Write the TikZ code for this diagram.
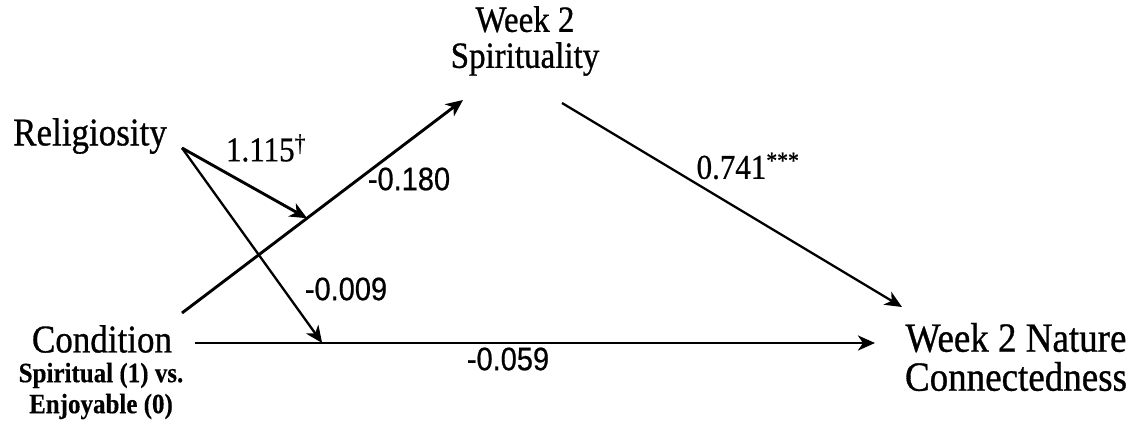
\documentclass[tikz,border=0pt]{standalone}
\usepackage{fontspec}
\setmainfont{Liberation Serif}[BoldFont=Liberation Serif,BoldFeatures={FakeBold=0.8}]
\newfontfamily\subfont{Liberation Serif Bold}[FakeBold=0.4]
\newfontfamily\numfont{Liberation Sans}[BoldFont=Liberation Sans,BoldFeatures={FakeBold=0.6}]
\usetikzlibrary{arrows.meta,calc}
\newcommand\tallbox[1]{\scalebox{1}[1.12]{#1}}

\begin{document}
\begin{tikzpicture}[x=1pt,y=-1pt,
  var/.style={font=\bfseries\fontsize{35}{37}\selectfont,inner sep=0pt,align=center},
  sub/.style={font=\subfont\fontsize{25}{31}\selectfont,inner sep=0pt,align=center},
  coef/.style={font=\numfont\bfseries\fontsize{29}{31}\selectfont,inner sep=0pt},
  coefser/.style={font=\bfseries\fontsize{31}{33}\selectfont,inner sep=0pt},
  link/.style={line width=2.9pt,-{Stealth[length=17pt,width=15pt,inset=5pt]}},
  thinlink/.style={line width=2.3pt,-{Stealth[length=17pt,width=15pt,inset=5pt]}}]
\useasboundingbox (0,0) rectangle (1133,429);
% variables
\node[var] (rel) at (90,136) {\tallbox{Religiosity}};
\node[var,font=\bfseries\fontsize{33}{36}\selectfont] (spir) at (525,41) {\tallbox{Week 2}\\\tallbox{Spirituality}};
\node[var] (cond) at (102,339) {\tallbox{Condition}};
\node[sub] (condsub) at (101,391) {\tallbox{Spiritual (1) vs.}\\\tallbox{Enjoyable (0)}};
\node[var,font=\bfseries\fontsize{37}{39}\selectfont] (nat) at (1016,357) {\tallbox{Week 2 Nature}\\\tallbox{Connectedness}};
% connector ends
\coordinate (relout) at (182,148);
\coordinate (condup) at (182,313);
\coordinate (spirin) at (463,100);
\coordinate (spirout) at (562,103);
\coordinate (natin) at (902,307);
\coordinate (condout) at (195,343);
\coordinate (natleft) at (875,343);
\coordinate (modA) at ($(condup)!0.445!(spirin)$);
\coordinate (modB) at ($(condout)!0.187!(natleft)$);
% paths
\draw[link] (condup) -- (spirin);
\draw[link] (condout) -- (natleft);
\draw[link] (relout) -- (modA);
\draw[thinlink] (relout) -- (modB);
\draw[thinlink] (spirout) -- (natin);
% coefficients
\node[coefser] (c1) at (266,148) {\tallbox{1.115\textsuperscript{†}}};
\node[coef] (c2) at (409,179) {\tallbox{-0.180}};
\node[coefser] (c3) at (748,166) {\tallbox{0.741\textsuperscript{***}}};
\node[coef] (c4) at (346,289) {\tallbox{-0.009}};
\node[coef] (c5) at (508,359) {\tallbox{-0.059}};
\end{tikzpicture}
\end{document}
